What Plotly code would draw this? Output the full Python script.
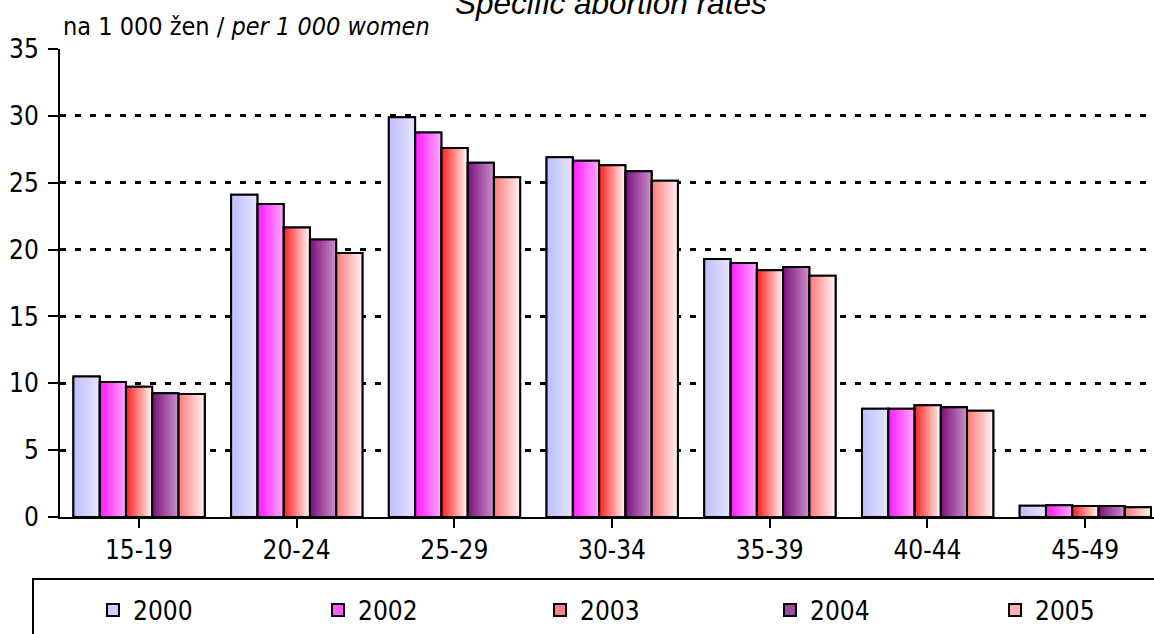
import plotly.graph_objects as go

categories = ["15-19", "20-24", "25-29", "30-34", "35-39", "40-44", "45-49"]
series_names = ["2000", "2002", "2003", "2004", "2005"]
v2000 = [10.5, 24.1, 29.9, 26.9, 19.3, 8.1, 0.85]
v2002 = [10.1, 23.4, 28.75, 26.65, 19.0, 8.1, 0.87]
v2003 = [9.75, 21.65, 27.6, 26.3, 18.45, 8.35, 0.82]
v2004 = [9.25, 20.75, 26.5, 25.85, 18.7, 8.2, 0.82]
v2005 = [9.2, 19.75, 25.4, 25.15, 18.05, 7.95, 0.72]
values = [v2000, v2002, v2003, v2004, v2005]

# styles (gradient left -> right)
left_cols = [(190, 190, 255), (255, 30, 255), (255, 35, 35), (125, 20, 125), (255, 125, 125)]
right_cols = [(228, 228, 255), (255, 165, 255), (255, 242, 242), (200, 140, 200), (255, 238, 238)]
legend_px = [115, 340, 562, 792, 1017]   # legend swatch centres (px)

FONT = "Liberation Sans Narrow, Arial Narrow, DejaVu Sans Condensed, sans-serif"
W, H = 1154, 634
ML, MT, MB = 60, 49, 117
PW, PH = W - ML, H - MT - MB
N = 14
bw = 0.1665
start = -0.415
x_idx = list(range(len(categories)))


def mix(a, b, t):
    return "rgb(%d,%d,%d)" % tuple(round(a[j] + (b[j] - a[j]) * t) for j in range(3))


def px_x(p):
    return (p - ML) / PW


def px_y(p):
    return (H - MB - p) / PH


fig = go.Figure()

legend_ids = ["legend", "legend2", "legend3", "legend4", "legend5"]

# base bars (legend entries)
for i, name in enumerate(series_names):
    fig.add_trace(go.Bar(
        x=x_idx, y=values[i], name=name, width=bw, offset=start + i * bw,
        marker=dict(color=mix(left_cols[i], right_cols[i], 0.45),
                    line=dict(color="black", width=2)),
        showlegend=True, legend=legend_ids[i], hoverinfo="skip"))

# gradient strips
for i, name in enumerate(series_names):
    for k in range(N):
        sw = bw / N
        w = sw * 1.3 if k < N - 1 else sw
        fig.add_trace(go.Bar(
            x=x_idx, y=values[i], width=w, offset=start + i * bw + k * sw,
            marker=dict(color=mix(left_cols[i], right_cols[i], k / (N - 1)),
                        line=dict(width=0)),
            showlegend=False, hoverinfo="skip"))

# outlines
for i, name in enumerate(series_names):
    fig.add_trace(go.Bar(
        x=x_idx, y=values[i], width=bw, offset=start + i * bw,
        marker=dict(color="rgba(0,0,0,0)", line=dict(color="black", width=2)),
        showlegend=False, hoverinfo="skip"))

legend_layout = {}
for i, lid in enumerate(legend_ids):
    legend_layout[lid] = dict(
        orientation="h", x=px_x(legend_px[i] - 22), xanchor="left",
        y=px_y(610), yanchor="middle", itemwidth=30,
        font=dict(family=FONT, size=26), bgcolor="rgba(0,0,0,0)")

fig.update_layout(
    width=W, height=H,
    margin=dict(l=ML, r=0, t=MT, b=MB, autoexpand=False),
    barmode="overlay",
    paper_bgcolor="white", plot_bgcolor="white",
    font=dict(family=FONT, size=26, color="black"),
    xaxis=dict(
        tickmode="array", tickvals=x_idx, ticktext=categories,
        range=[-0.5, -0.5 + 7 * PW / 1104], showline=True, linecolor="black", linewidth=2,
        ticks="outside", ticklen=9, tickwidth=2, tickcolor="black",
        showgrid=False, zeroline=False, automargin=False,
        tickfont=dict(family=FONT, size=26)),
    yaxis=dict(
        range=[0, 35], dtick=5, tick0=0, showline=True, linecolor="black", linewidth=2,
        ticks="outside", ticklen=10, tickwidth=2, tickcolor="black",
        showgrid=True, gridcolor="black", gridwidth=2.5, griddash="6px,9px",
        zeroline=False, ticklabelstandoff=4, automargin=False,
        tickfont=dict(family=FONT, size=26)),
    annotations=[
        dict(text="<i>Specific abortion rates</i>", xref="paper", yref="paper",
             x=px_x(611), y=px_y(3), xanchor="center", yanchor="middle",
             showarrow=False,
             font=dict(family="Liberation Sans, Arial, sans-serif", size=31.5)),
        dict(text="na 1 000 žen / <i>per 1 000 women</i>", xref="paper", yref="paper",
             x=px_x(61), y=px_y(27), xanchor="left", yanchor="middle", showarrow=False,
             font=dict(family=FONT, size=25)),
    ],
    shapes=[
        dict(type="rect", xref="paper", yref="paper",
             x0=px_x(33), x1=1.2, y0=-0.6, y1=px_y(579),
             line=dict(color="black", width=2), fillcolor="rgba(0,0,0,0)",
             layer="below"),
    ],
    **legend_layout,
)

fig.write_html("out.html", config={"displayModeBar": False},
               post_script="document.body.style.margin='0';document.body.style.overflow='hidden';")
